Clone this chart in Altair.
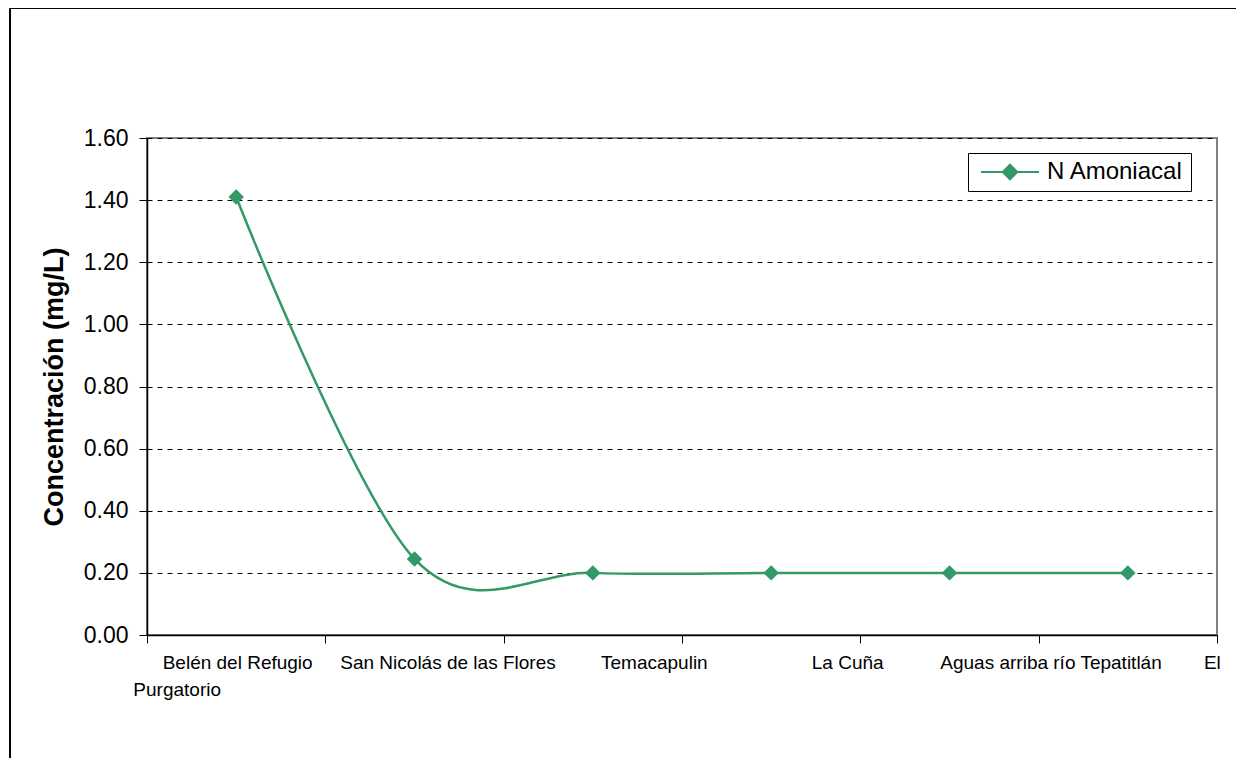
import altair as alt
import pandas as pd

categorias = ["Belén del Refugio", "San Nicolás de las Flores", "Temacapulin",
              "La Cuña", "Aguas arriba río Tepatitlán", "El Purgatorio"]
n_amoniacal = [1.41, 0.245, 0.20, 0.20, 0.20, 0.20]
serie = "N Amoniacal"
y_ticks = [0.0, 0.2, 0.4, 0.6, 0.8, 1.0, 1.2, 1.4, 1.6]

df = pd.DataFrame({"cat": categorias, "val": n_amoniacal, "serie": [serie] * len(categorias)})

W, H = 1070, 497
FONT = "Liberation Sans"
GREEN = "#339966"

names_js = "[" + ",".join("'" + c + "'" for c in categorias) + "]"
offsets_js = "[1,33,61,76,101,84]"
label_offset_expr = f"{offsets_js}[indexof({names_js}, datum.value)]"

x_enc = alt.X(
    "cat:N", sort=categorias, title=None,
    scale=alt.Scale(paddingInner=0, paddingOuter=0),
    axis=alt.Axis(
        labelAngle=0, tickBand="extent", tickSize=8, tickColor="#000",
        domainColor="#000", domainWidth=1.5, labelFont=FONT, labelFontSize=19,
        labelColor="#000", labelPadding=10, labelAlign="center", labelLimit=0,
        labelOffset={"expr": label_offset_expr},
        labelExpr="datum.value == 'El Purgatorio' ? 'El' : datum.value",
        grid=False,
    ),
)
y_enc = alt.Y(
    "val:Q", title="Concentración (mg/L)",
    scale=alt.Scale(domain=[0, 1.6], nice=False),
    axis=alt.Axis(
        values=y_ticks, format=".2f", tickSize=8, tickColor="#000",
        domainColor="#000", domainWidth=1.5, labelFont=FONT, labelFontSize=23,
        labelColor="#000", labelPadding=11, titleFont=FONT, titleFontSize=27,
        titleFontWeight="bold", titleColor="#000", titlePadding=15,
        grid=True, gridColor="#000", gridDash=[5, 5], gridWidth=1,
    ),
)

color_enc = alt.Color(
    "serie:N", title=None,
    scale=alt.Scale(domain=[serie], range=[GREEN]),
    legend=alt.Legend(
        orient="none", legendX=821, legendY=15,
        symbolType="M-4,0L4,0M0,-1L1,0L0,1L-1,0Z", symbolSize=210,
        symbolStrokeWidth=2, symbolFillColor=GREEN, symbolStrokeColor=GREEN,
        symbolOffset=23, labelOffset=25,
        labelFont=FONT, labelFontSize=24, labelColor="#000",
        strokeColor="#000", padding=7, fillColor="#fff",
    ),
)

frame = alt.Chart(df).mark_rect(fill="white", fillOpacity=0, stroke="#000", strokeWidth=1).encode(
    x=alt.value(-137), x2=alt.value(1400),
    y=alt.value(-129.5), y2=alt.value(900),
)

line = alt.Chart(df).mark_line(interpolate="cardinal", strokeWidth=2.5).encode(
    x=x_enc, y=y_enc, color=color_enc
)
points = alt.Chart(df).mark_point(shape="diamond", filled=True, size=240, opacity=1).encode(
    x=x_enc, y=y_enc, color=color_enc
)
purg = alt.Chart(df).transform_filter(alt.datum.cat == categorias[0]).mark_text(
    text="Purgatorio", font=FONT, fontSize=19, color="#000", dx=-59, baseline="middle"
).encode(x=x_enc, y=alt.value(H + 55))

chart = alt.layer(frame, line, points, purg).properties(
    width=W, height=H,
    autosize=alt.AutoSizeParams(type="none"),
    padding={"left": 139, "top": 130, "right": 19, "bottom": 123},
    background="white",
).configure_view(stroke="#808080", strokeWidth=2)

chart.save("out.html", embed_options={"renderer": "svg", "actions": False})
